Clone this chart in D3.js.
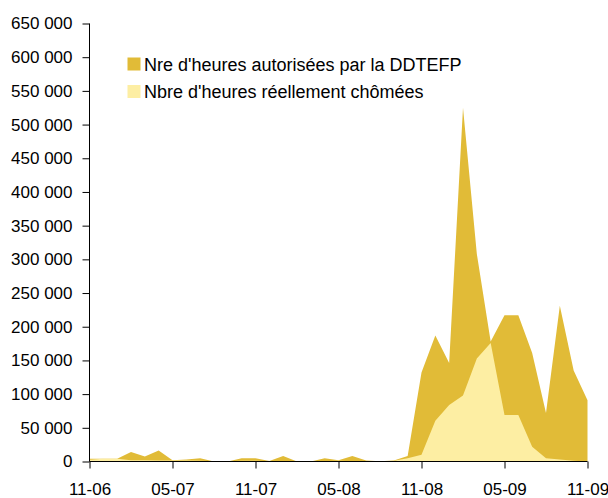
<!DOCTYPE html>
<html>
<head>
<meta charset="utf-8">
<script src="https://cdn.jsdelivr.net/npm/d3@7"></script>
<style>
  body { margin: 0; background: #fff; }
  text { font-family: "Liberation Sans", Arial, sans-serif; fill: #000; }
</style>
</head>
<body>
<div id="chart_wrapper"></div>
<script>
var months = ["11-06","12-06","01-07","02-07","03-07","04-07","05-07","06-07","07-07","08-07","09-07","10-07",
              "11-07","12-07","01-08","02-08","03-08","04-08","05-08","06-08","07-08","08-08","09-08","10-08",
              "11-08","12-08","01-09","02-09","03-09","04-09","05-09","06-09","07-09","08-09","09-09","10-09","11-09"];

// Nre d'heures autorisées par la DDTEFP
var autorisees = [4000, 4000, 4000, 14000, 7500, 16500, 2000, 3000, 5000, 0, 0, 5000,
                  5000, 700, 8000, 0, 0, 5000, 2000, 8000, 1500, 500, 1500, 8000,
                  132000, 187000, 146000, 525000, 308000, 178000, 217000, 217000, 161000, 72000, 231000, 135000, 91000];

// Nbre d'heures réellement chômées
var chomees = [2500, 4000, 4000, 2000, 2000, 1500, 1500, 1500, 1000, 500, 500, 1000,
               1000, 500, 500, 0, 0, 500, 1000, 500, 500, 0, 1000, 5000,
               10000, 60500, 84000, 98000, 153000, 176000, 69000, 69000, 22000, 5000, 3000, 1000, 0];

var xTickLabels = ["11-06","05-07","11-07","05-08","11-08","05-09","11-09"];
var yTicks = d3.range(0, 650001, 50000);

var legendLabels = ["Nre d'heures autorisées par la DDTEFP", "Nbre d'heures réellement chômées"];
var colors = ["#E1BB37", "#FDEEA3"];

var wrapperWidth = 608,
    wrapperHeight = 498;

var margin = { left: 89.5, right: 20.5, top: 23.5, bottom: 36.5 };
var width = wrapperWidth - margin.left - margin.right;
var height = wrapperHeight - margin.top - margin.bottom;

var svg = d3.select("#chart_wrapper").append("svg")
    .attr("width", wrapperWidth).attr("height", wrapperHeight)
  .append("g")
    .attr("transform", "translate(" + margin.left + "," + margin.top + ")");

var x = d3.scaleLinear().domain([0, months.length - 1]).range([0, width]);
var y = d3.scaleLinear().domain([0, 650000]).range([height, 0]);

var area = function(values) {
  return d3.area()
      .x(function(d, i) { return x(i); })
      .y0(y(0))
      .y1(function(d) { return y(d); })(values);
};

svg.append("path").attr("d", area(autorisees)).attr("fill", colors[0]);
svg.append("path").attr("d", area(chomees)).attr("fill", colors[1]);

var fmt = function(d) { return d3.format(",")(d).replace(/,/g, " "); };

var yAxis = svg.append("g")
    .call(d3.axisLeft(y).tickValues(yTicks).tickFormat(fmt).tickSize(7).tickPadding(10));
yAxis.selectAll("text").style("font-size", "17px");

var xAxis = svg.append("g")
    .attr("transform", "translate(0," + height + ")")
    .call(d3.axisBottom(x)
        .tickValues(xTickLabels.map(function(l) { return months.indexOf(l); }))
        .tickFormat(function(i) { return months[i]; })
        .tickSize(7).tickPadding(14));
xAxis.selectAll("text").style("font-size", "17px");

svg.selectAll(".domain, .tick line").attr("stroke", "#000");
svg.selectAll(".domain").attr("d", null);
yAxis.append("line").attr("x1", 0).attr("x2", 0).attr("y1", 0).attr("y2", height).attr("stroke", "#000");
xAxis.append("line").attr("x1", 0).attr("x2", width).attr("y1", 0).attr("y2", 0).attr("stroke", "#000");

var legend = svg.append("g").attr("transform", "translate(38,34)")
  .selectAll("g")
  .data(legendLabels)
  .enter().append("g")
    .attr("transform", function(d, i) { return "translate(0," + (i * 27.5) + ")"; });

legend.append("rect")
    .attr("width", 13).attr("height", 13)
    .attr("fill", function(d, i) { return colors[i]; });

legend.append("text")
    .attr("x", 16.5).attr("y", 13)
    .style("font-size", "18px")
    .text(function(d) { return d; });
</script>
</body>
</html>
